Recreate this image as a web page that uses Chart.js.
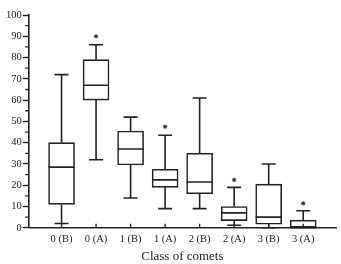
<!DOCTYPE html>
<html>
<head>
<meta charset="utf-8">
<script src="https://cdn.jsdelivr.net/npm/chart.js@4/dist/chart.umd.min.js"></script>
<style>
  body { margin: 0; background: #fff; }
  canvas { display: block; }
</style>
</head>
<body>
<canvas id="boxchart" width="341" height="264"></canvas>
<script>
var categories = ['0 (B)', '0 (A)', '1 (B)', '1 (A)', '2 (B)', '2 (A)', '3 (B)', '3 (A)'];
var whiskerLow = [2, 32, 14, 9, 9, 1.2, 0, 0];
var q1 = [11, 60, 29.5, 19, 16, 3.4, 1.7, 0];
var median = [28.5, 67, 37, 22.5, 21.5, 7, 5, 0];
var q3 = [40, 79, 45.5, 27.5, 35, 10, 20.5, 3.6];
var whiskerHigh = [72, 86, 52, 43.5, 61, 19, 30, 8];
var outliers = [null, 90, null, 47.5, null, 22.5, null, 11.5];
var yTicks = [0, 10, 20, 30, 40, 50, 60, 70, 80, 90, 100];

var ink = '#222';

var boxData = categories.map(function (c, i) {
    return { x: i + 1, y: [q1[i], q3[i]] };
});
var outlierData = [];
outliers.forEach(function (v, i) {
    if (v !== null) outlierData.push({ x: i + 1, y: v });
});

// whiskers, caps, medians, minor y ticks and inward x ticks
var boxExtras = {
    id: 'boxExtras',
    afterDatasetsDraw: function (chart) {
        var ctx = chart.ctx;
        var xs = chart.scales.x, ys = chart.scales.y;
        ctx.save();
        ctx.strokeStyle = ink;
        ctx.lineWidth = 1.6;
        var half = 13, cap = 7;
        categories.forEach(function (c, i) {
            var x = xs.getPixelForValue(i + 1);
            var lo = ys.getPixelForValue(whiskerLow[i]);
            var hi = ys.getPixelForValue(whiskerHigh[i]);
            var b = ys.getPixelForValue(q1[i]);
            var t = ys.getPixelForValue(q3[i]);
            var m = ys.getPixelForValue(median[i]);
            ctx.beginPath();
            ctx.moveTo(x, t); ctx.lineTo(x, hi);
            ctx.moveTo(x - cap, hi); ctx.lineTo(x + cap, hi);
            ctx.moveTo(x, b); ctx.lineTo(x, lo);
            ctx.moveTo(x - cap, lo); ctx.lineTo(x + cap, lo);
            ctx.moveTo(x - half, m); ctx.lineTo(x + half, m);
            ctx.stroke();
        });
        ctx.lineWidth = 1.3;
        ctx.beginPath();
        for (var v = 5; v < 100; v += 10) {
            var y = ys.getPixelForValue(v);
            ctx.moveTo(ys.right - 3.5, y); ctx.lineTo(ys.right, y);
        }
        categories.forEach(function (c, i) {
            var x = xs.getPixelForValue(i + 1);
            ctx.moveTo(x, xs.top); ctx.lineTo(x, xs.top - 4);
        });
        ctx.stroke();
        ctx.restore();
    }
};

var crt = document.getElementById('boxchart').getContext('2d');
new Chart(crt, {
    type: 'bar',
    data: {
        datasets: [{
            data: boxData,
            backgroundColor: '#fff',
            borderColor: ink,
            borderWidth: 1.6,
            borderSkipped: false,
            barThickness: 26
        }, {
            type: 'scatter',
            data: outlierData,
            pointStyle: 'star',
            radius: 2.2,
            borderColor: ink,
            borderWidth: 1,
            backgroundColor: ink
        }]
    },
    options: {
        responsive: false,
        animation: false,
        layout: { padding: { left: 5, right: 1, top: 15, bottom: 0 } },
        plugins: {
            legend: { display: false },
            tooltip: { enabled: false }
        },
        scales: {
            x: {
                type: 'linear',
                offset: false,
                min: 0.05,
                max: 8.95,
                afterBuildTicks: function (axis) {
                    axis.ticks = categories.map(function (c, i) { return { value: i + 1 }; });
                },
                ticks: {
                    autoSkip: false,
                    maxRotation: 0,
                    padding: 1,
                    color: ink,
                    font: { family: 'Liberation Serif', size: 10.5 },
                    callback: function (v) { return categories[v - 1]; }
                },
                grid: { drawOnChartArea: false, offset: false, tickLength: 4, tickColor: 'transparent' },
                border: { color: ink, width: 1.6 },
                title: {
                    display: true,
                    text: 'Class of comets',
                    color: ink,
                    padding: { top: 2, bottom: 0 },
                    font: { family: 'Liberation Serif', size: 13 }
                }
            },
            y: {
                min: 0,
                max: 100,
                afterBuildTicks: function (axis) {
                    axis.ticks = yTicks.map(function (v) { return { value: v }; });
                },
                ticks: {
                    padding: 1,
                    color: ink,
                    font: { family: 'Liberation Serif', size: 10.5 }
                },
                grid: { drawOnChartArea: false, tickLength: 6, tickColor: ink, tickWidth: 1.4 },
                border: { color: ink, width: 1.6 }
            }
        }
    },
    plugins: [boxExtras]
});
</script>
</body>
</html>
